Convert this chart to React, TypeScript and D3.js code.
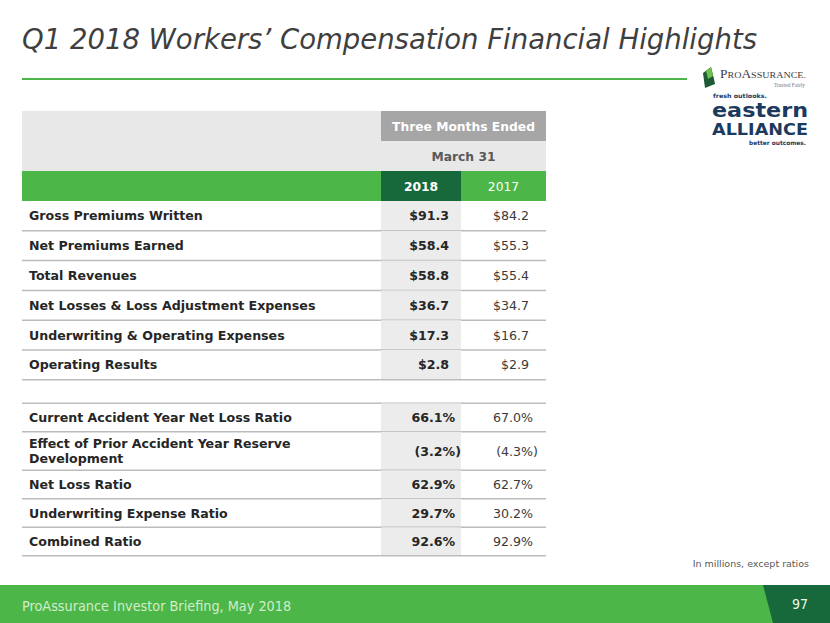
import React, { useEffect, useRef } from 'react';
import * as d3 from 'd3';

const title = 'Q1 2018 Workers\u2019 Compensation Financial Highlights';
const periodHeader = 'Three Months Ended';
const dateHeader = 'March 31';
const years = ['2018', '2017'];

const financialLabels = [
	'Gross Premiums Written',
	'Net Premiums Earned',
	'Total Revenues',
	'Net Losses & Loss Adjustment Expenses',
	'Underwriting & Operating Expenses',
	'Operating Results',
];
const financial2018 = ['$91.3', '$58.4', '$58.8', '$36.7', '$17.3', '$2.8'];
const financial2017 = ['$84.2', '$55.3', '$55.4', '$34.7', '$16.7', '$2.9'];

const ratioLabels = [
	['Current Accident Year Net Loss Ratio'],
	['Effect of Prior Accident Year Reserve', 'Development'],
	['Net Loss Ratio'],
	['Underwriting Expense Ratio'],
	['Combined Ratio'],
];
const ratio2018 = ['66.1%', '(3.2%)', '62.9%', '29.7%', '92.6%'];
const ratio2017 = ['67.0%', '(4.3%)', '62.7%', '30.2%', '92.9%'];

const footnote = 'In millions, except ratios';
const footerText = 'ProAssurance Investor Briefing, May 2018';
const pageNumber = '97';

const W = 830;
const H = 623;
const GREEN = '#4cb748';
const DARK_GREEN = '#17683a';
const FONT = '"DejaVu Sans", Verdana, sans-serif';
const COND = '"DejaVu Sans Condensed", "DejaVu Sans", sans-serif';
const NAVY = '#1c3a5e';

export default function App() {
	const ref = useRef(null);

	useEffect(() => {
		if (ref.current) drawSlide(ref.current);
	}, []);

	return (
		<svg
			ref={ref}
			width={W}
			height={H}
			viewBox={`0 0 ${W} ${H}`}
			style={{ position: 'absolute', left: 0, top: 0, background: '#fff' }}
		/>
	);
}

const drawSlide = (element) => {
	const svg = d3.select(element);
	svg.selectAll('*').remove();

	// title + rule
	svg.append('text')
		.attr('x', 22).attr('y', 49)
		.attr('font-family', COND)
		.attr('font-style', 'italic')
		.attr('font-size', 28)
		.attr('fill', '#3f3f3f')
		.attr('textLength', 735)
		.attr('lengthAdjust', 'spacingAndGlyphs')
		.text(title);
	svg.append('line')
		.attr('x1', 22).attr('x2', 687).attr('y1', 79).attr('y2', 79)
		.attr('stroke', GREEN).attr('stroke-width', 2);

	drawLogo(svg);

	// table geometry
	const left = 22;
	const right = 546;
	const x = d3.scaleOrdinal().domain(years).range([381, 461]);
	const colW = { '2018': 80, '2017': 85 };

	const head = svg.append('g');
	head.append('rect').attr('x', left).attr('y', 111).attr('width', right - left).attr('height', 60).attr('fill', '#e8e8e8');
	head.append('rect').attr('x', x('2018')).attr('y', 111).attr('width', right - x('2018')).attr('height', 30).attr('fill', '#a6a6a6');
	head.append('text')
		.attr('x', (x('2018') + right) / 2).attr('y', 131)
		.attr('text-anchor', 'middle').attr('font-family', FONT).attr('font-weight', 'bold')
		.attr('font-size', 12.3).attr('fill', '#fff').text(periodHeader);
	head.append('text')
		.attr('x', (x('2018') + right) / 2).attr('y', 161)
		.attr('text-anchor', 'middle').attr('font-family', FONT).attr('font-weight', 'bold')
		.attr('font-size', 12.3).attr('fill', '#595959').text(dateHeader);
	head.append('rect').attr('x', left).attr('y', 171).attr('width', right - left).attr('height', 30).attr('fill', GREEN);
	head.append('rect').attr('x', x('2018')).attr('y', 171).attr('width', colW['2018']).attr('height', 30).attr('fill', DARK_GREEN);
	head.selectAll('text.year').data(years).enter().append('text')
		.attr('class', 'year')
		.attr('x', (d) => x(d) + colW[d] / 2).attr('y', 191)
		.attr('text-anchor', 'middle').attr('font-family', FONT)
		.attr('font-weight', (d, i) => (i === 0 ? 'bold' : 'normal'))
		.attr('font-size', 12.3).attr('fill', '#fff').text((d) => d);

	// rows
	const rows = [];
	financialLabels.forEach((l, i) => rows.push({ lines: [l], v: [financial2018[i], financial2017[i]], kind: 'dollar' }));
	rows.push({ lines: [], v: ['', ''], kind: 'blank' });
	ratioLabels.forEach((l, i) => rows.push({ lines: l, v: [ratio2018[i], ratio2017[i]], kind: 'ratio' }));

	const heightOf = (r) => (r.kind === 'blank' ? 23.5 : r.lines.length > 1 ? 38.5 : r.kind === 'ratio' ? 28.5 : 29.8);
	const tops = d3.cumsum([0, ...rows.map(heightOf)]).map((d) => 201 + d);

	const body = svg.append('g').attr('font-family', FONT).attr('font-size', 12.6);
	rows.forEach((r, i) => {
		const y0 = tops[i];
		const y1 = tops[i + 1];
		const mid = (y0 + y1) / 2;
		if (r.kind !== 'blank') {
			body.append('rect')
				.attr('x', x('2018')).attr('y', y0).attr('width', colW['2018']).attr('height', y1 - y0)
				.attr('fill', '#ececec');
		}
		body.append('line')
			.attr('x1', left).attr('x2', right).attr('y1', y1).attr('y2', y1)
			.attr('stroke', '#bcbcbc').attr('stroke-width', 1.5);
		if (r.kind === 'blank') return;
		const lh = 15;
		r.lines.forEach((t, j) => {
			body.append('text')
				.attr('x', 29)
				.attr('y', mid + 4.5 + (j - (r.lines.length - 1) / 2) * lh)
				.attr('font-weight', 'bold').attr('fill', '#262626').text(t);
		});
		r.v.forEach((val, k) => {
			const paren = val.endsWith(')');
			const endX = r.kind === 'dollar' ? [449, 529][k] : [461, 538][k];
			const txt = body.append('text')
				.attr('x', endX).attr('y', mid + 4.5)
				.attr('text-anchor', 'end')
				.attr('font-weight', k === 0 ? 'bold' : 'normal')
				.attr('fill', k === 0 ? '#262626' : '#3a3a3a');
			txt.append('tspan').text(val);
			if (r.kind === 'ratio' && !paren) txt.append('tspan').attr('fill-opacity', 0).text(')');
		});
	});

	svg.append('text')
		.attr('x', 809).attr('y', 567).attr('text-anchor', 'end')
		.attr('font-family', FONT).attr('font-size', 9.5).attr('fill', '#595959')
		.text(footnote);

	// footer band
	svg.append('rect').attr('x', 0).attr('y', 585).attr('width', W).attr('height', H - 585).attr('fill', GREEN);
	svg.append('path').attr('d', d3.line()([[763, 585], [W, 585], [W, H], [773, H]]) + 'Z').attr('fill', DARK_GREEN);
	svg.append('text')
		.attr('x', 22).attr('y', 611)
		.attr('font-family', COND)
		.attr('font-size', 14.3).attr('fill', '#d2eccc')
		.text(footerText);
	svg.append('text')
		.attr('x', 800).attr('y', 609).attr('text-anchor', 'middle')
		.attr('font-family', COND)
		.attr('font-size', 14).attr('fill', '#eef7ec')
		.text(pageNumber);
};

const drawLogo = (svg) => {
	const g = svg.append('g');
	g.append('path').attr('d', 'M703,73 L711,67 L714,79 L715,84 L705,88 Z').attr('fill', '#1e5a35');
	g.append('path').attr('d', 'M706,71 L711,67 L713,76 L708,79 Z').attr('fill', '#6fbf4a');

	const pa = g.append('text')
		.attr('x', 720).attr('y', 78)
		.attr('font-family', '"Liberation Serif", serif').attr('fill', '#3a3a3a')
		.attr('textLength', 86).attr('lengthAdjust', 'spacingAndGlyphs');
	pa.append('tspan').attr('font-size', 12).text('P');
	pa.append('tspan').attr('font-size', 9).text('RO');
	pa.append('tspan').attr('font-size', 12).text('A');
	pa.append('tspan').attr('font-size', 9).text('SSURANCE.');
	g.append('text')
		.attr('x', 805).attr('y', 87).attr('text-anchor', 'end')
		.attr('font-family', '"Liberation Serif", serif').attr('font-size', 5.5).attr('fill', '#777')
		.text('Trusted Fairly');

	g.append('text')
		.attr('x', 713).attr('y', 97.5)
		.attr('font-family', FONT).attr('font-weight', 'bold').attr('font-size', 6).attr('fill', NAVY)
		.attr('textLength', 54).attr('lengthAdjust', 'spacingAndGlyphs')
		.text('fresh outlooks.');
	g.append('text')
		.attr('x', 712).attr('y', 117)
		.attr('font-family', FONT).attr('font-weight', 'bold').attr('font-size', 19).attr('fill', NAVY)
		.attr('textLength', 96).attr('lengthAdjust', 'spacingAndGlyphs')
		.text('eastern');
	g.append('text')
		.attr('x', 712).attr('y', 135)
		.attr('font-family', FONT).attr('font-weight', 'bold').attr('font-size', 15).attr('fill', NAVY)
		.attr('textLength', 96).attr('lengthAdjust', 'spacingAndGlyphs')
		.text('ALLIANCE');
	g.append('text')
		.attr('x', 749).attr('y', 145)
		.attr('font-family', FONT).attr('font-weight', 'bold').attr('font-size', 6).attr('fill', NAVY)
		.attr('textLength', 57).attr('lengthAdjust', 'spacingAndGlyphs')
		.text('better outcomes.');
};
